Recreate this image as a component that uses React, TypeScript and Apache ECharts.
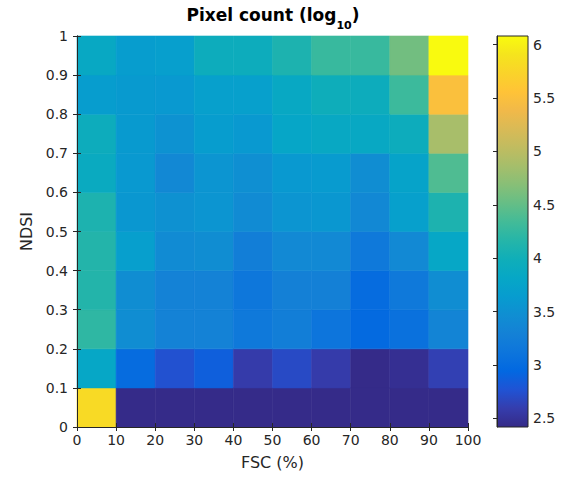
import React, { useEffect, useRef } from "react";
import * as echarts from "echarts";

// Bin lower edges
const fscEdges = [0, 10, 20, 30, 40, 50, 60, 70, 80, 90];
const ndsiEdges = [0, 0.1, 0.2, 0.3, 0.4, 0.5, 0.6, 0.7, 0.8, 0.9];
const fscBinWidth = 10;
const ndsiBinWidth = 0.1;

// log10 pixel counts, rows = NDSI bins from bottom (0–0.1) to top (0.9–1)
const row00 = [5.8, 2.43, 2.43, 2.43, 2.43, 2.43, 2.43, 2.43, 2.43, 2.43];
const row01 = [3.82, 3.0, 2.75, 2.87, 2.58, 2.7, 2.58, 2.43, 2.47, 2.62];
const row02 = [4.22, 3.45, 3.3, 3.3, 3.17, 3.25, 3.12, 2.97, 3.07, 3.33];
const row03 = [4.15, 3.45, 3.3, 3.3, 3.15, 3.28, 3.28, 3.0, 3.17, 3.45];
const row04 = [4.15, 3.68, 3.42, 3.45, 3.25, 3.4, 3.4, 3.17, 3.4, 3.82];
const row05 = [4.1, 3.58, 3.5, 3.55, 3.43, 3.55, 3.58, 3.38, 3.7, 4.1];
const row06 = [3.9, 3.6, 3.38, 3.55, 3.48, 3.6, 3.63, 3.45, 3.75, 4.4];
const row07 = [3.95, 3.62, 3.52, 3.65, 3.6, 3.8, 3.85, 3.85, 3.95, 4.88];
const row08 = [3.65, 3.62, 3.6, 3.7, 3.7, 3.85, 3.97, 3.95, 4.3, 5.5];
const row09 = [3.85, 3.65, 3.68, 3.95, 3.95, 4.1, 4.28, 4.28, 4.58, 6.07];
const logCounts = [row00, row01, row02, row03, row04, row05, row06, row07, row08, row09];

// Colour scale (parula)
const colorMin = 2.42;
const colorMax = 6.08;
const colorbarTicks = [2.5, 3, 3.5, 4, 4.5, 5, 5.5, 6];
const parula = [
  "#352A87", "#353DAD", "#2053D4", "#0268E1", "#0D75DC", "#1481D6", "#108ED2", "#079CCF",
  "#06A7C6", "#0FAEB9", "#25B5A9", "#42BB98", "#65BE86", "#87BF77", "#A5BE6B", "#C0BC60",
  "#D9BA56", "#F1B949", "#FFC337", "#FAD32A", "#F5E41D", "#F9FB0E",
];

export default function App() {
  const ref = useRef<HTMLDivElement>(null);

  useEffect(() => {
    const chart = echarts.init(ref.current!, null, { renderer: "svg" });
    const data: number[][] = [];
    logCounts.forEach((row, r) =>
      row.forEach((v, c) => data.push([fscEdges[c], ndsiEdges[r], v]))
    );
    const font = "DejaVu Sans";
    const axisColor = "#262626";
    const lbl = { color: axisColor, fontFamily: font, fontSize: 14 };
    const nameStyle = { color: axisColor, fontFamily: font, fontSize: 16 };
    const tick = { show: true, inside: true, length: 4, lineStyle: { color: axisColor, width: 1 } };
    const line = { show: true, lineStyle: { color: axisColor, width: 1 } };

    chart.setOption({
      animation: false,
      grid: [
        { left: 77, top: 36, width: 391, height: 391 },
        { left: 497, top: 36, width: 31, height: 391 },
      ],
      xAxis: [
        {
          gridIndex: 0, type: "value", min: 0, max: 100, interval: 10, position: "bottom", z: 5,
          axisLine: line, axisTick: tick, splitLine: { show: false },
          axisLabel: { ...lbl, margin: 6 },
          name: "FSC (%)", nameLocation: "middle", nameGap: 27, nameTextStyle: nameStyle,
        },
        {
          gridIndex: 0, type: "value", min: 0, max: 100, interval: 10, position: "top", z: 5,
          axisLine: line, axisTick: tick, splitLine: { show: false }, axisLabel: { show: false },
        },
        { gridIndex: 1, type: "value", min: 0, max: 1, show: false },
      ],
      yAxis: [
        {
          gridIndex: 0, type: "value", min: 0, max: 1, interval: 0.1, position: "left", z: 5,
          axisLine: line, axisTick: tick, splitLine: { show: false },
          axisLabel: { ...lbl, margin: 9 },
          name: "NDSI", nameLocation: "middle", nameGap: 39, nameTextStyle: nameStyle,
        },
        {
          gridIndex: 0, type: "value", min: 0, max: 1, interval: 0.1, position: "right", z: 5,
          axisLine: line, axisTick: tick, splitLine: { show: false }, axisLabel: { show: false },
        },
        {
          gridIndex: 1, type: "value", min: colorMin, max: colorMax, position: "right", z: 5,
          axisLine: line,
          axisTick: { ...tick, customValues: colorbarTicks },
          splitLine: { show: false },
          axisLabel: { ...lbl, margin: 5, customValues: colorbarTicks },
        },
      ],
      visualMap: {
        show: false, type: "continuous", min: colorMin, max: colorMax, dimension: 2,
        seriesIndex: 0, inRange: { color: parula },
      },
      graphic: [
        {
          type: "text", x: 273, y: 6, z: 10,
          style: {
            text: "{a|Pixel count (log}{s|10}{a|)}",
            align: "center", verticalAlign: "top",
            rich: {
              a: { fontFamily: font, fontWeight: "bold", fontSize: 17, fill: "#000", lineHeight: 20, verticalAlign: "top" },
              s: { fontFamily: font, fontWeight: "bold", fontSize: 11, fill: "#000", lineHeight: 25, verticalAlign: "bottom" },
            },
          },
        },
      ],
      series: [
        {
          type: "custom", xAxisIndex: 0, yAxisIndex: 0, z: 1, data,
          encode: { x: 0, y: 1 },
          renderItem: (params: any, api: any) => {
            const x0 = api.value(0);
            const y0 = api.value(1);
            const p1 = api.coord([x0, y0 + ndsiBinWidth]);
            const p2 = api.coord([x0 + fscBinWidth, y0]);
            const c = api.visual("color");
            return {
              type: "rect",
              shape: { x: p1[0], y: p1[1], width: p2[0] - p1[0], height: p2[1] - p1[1] },
              style: { fill: c, stroke: c, lineWidth: 0.6 },
            };
          },
        },
        {
          type: "custom", xAxisIndex: 2, yAxisIndex: 2, z: 1,
          data: [[0, colorMin, colorMax]],
          renderItem: (params: any, api: any) => {
            const p1 = api.coord([0, api.value(2)]);
            const p2 = api.coord([1, api.value(1)]);
            return {
              type: "rect",
              shape: { x: p1[0], y: p1[1], width: p2[0] - p1[0], height: p2[1] - p1[1] },
              style: {
                fill: new echarts.graphic.LinearGradient(
                  0, 1, 0, 0,
                  parula.map((color, i) => ({ offset: i / (parula.length - 1), color }))
                ),
                stroke: axisColor,
                lineWidth: 1,
              },
            };
          },
        },
      ],
    });
    return () => chart.dispose();
  }, []);

  return (
    <div
      ref={ref}
      style={{ position: "absolute", left: 0, top: 0, width: 574, height: 477, background: "#fff" }}
    />
  );
}
